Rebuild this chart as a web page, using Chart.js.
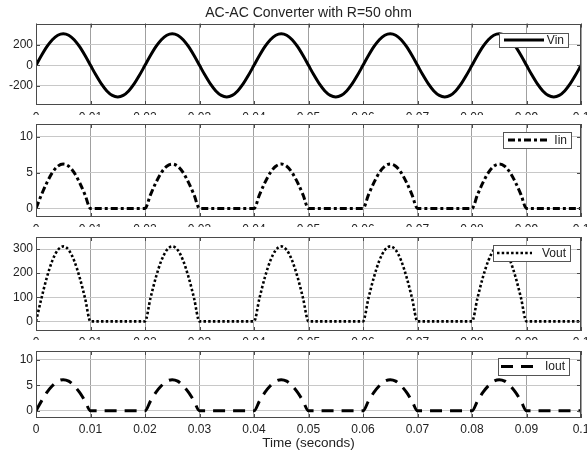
<!DOCTYPE html>
<html>
<head>
<meta charset="utf-8">
<script src="https://cdn.jsdelivr.net/npm/chart.js@4.4.1/dist/chart.umd.min.js"></script>
<style>
  html, body { margin: 0; padding: 0; background: #fff; overflow: hidden; width: 587px; height: 451px; }
  .panel { position: absolute; left: 0; width: 600px; overflow: hidden; }
  canvas { display: block; }
</style>
</head>
<body>
<div class="panel" style="top:0;height:115px"><canvas id="vinChart" width="600" height="125"></canvas></div>
<div class="panel" style="top:115px;height:112px"><canvas id="iinChart" width="600" height="122"></canvas></div>
<div class="panel" style="top:227px;height:113px"><canvas id="voutChart" width="600" height="124"></canvas></div>
<div class="panel" style="top:340px;height:111px"><canvas id="ioutChart" width="600" height="111"></canvas></div>
<script>
// sample times (s)
const time = [
  0, 0.001, 0.002, 0.003, 0.004, 0.005, 0.006, 0.007, 0.008, 0.009,
  0.010, 0.011, 0.012, 0.013, 0.014, 0.015, 0.016, 0.017, 0.018, 0.019,
  0.020, 0.021, 0.022, 0.023, 0.024, 0.025, 0.026, 0.027, 0.028, 0.029,
  0.030, 0.031, 0.032, 0.033, 0.034, 0.035, 0.036, 0.037, 0.038, 0.039,
  0.040, 0.041, 0.042, 0.043, 0.044, 0.045, 0.046, 0.047, 0.048, 0.049,
  0.050, 0.051, 0.052, 0.053, 0.054, 0.055, 0.056, 0.057, 0.058, 0.059,
  0.060, 0.061, 0.062, 0.063, 0.064, 0.065, 0.066, 0.067, 0.068, 0.069,
  0.070, 0.071, 0.072, 0.073, 0.074, 0.075, 0.076, 0.077, 0.078, 0.079,
  0.080, 0.081, 0.082, 0.083, 0.084, 0.085, 0.086, 0.087, 0.088, 0.089,
  0.090, 0.091, 0.092, 0.093, 0.094, 0.095, 0.096, 0.097, 0.098, 0.099,
  0.100
];

const vin = [
  0, 96, 183, 252, 296, 311, 296, 252, 183, 96,
  0, -96, -183, -252, -296, -311, -296, -252, -183, -96,
  0, 96, 183, 252, 296, 311, 296, 252, 183, 96,
  0, -96, -183, -252, -296, -311, -296, -252, -183, -96,
  0, 96, 183, 252, 296, 311, 296, 252, 183, 96,
  0, -96, -183, -252, -296, -311, -296, -252, -183, -96,
  0, 96, 183, 252, 296, 311, 296, 252, 183, 96,
  0, -96, -183, -252, -296, -311, -296, -252, -183, -96,
  0, 96, 183, 252, 296, 311, 296, 252, 183, 96,
  0, -96, -183, -252, -296, -311, -296, -252, -183, -96,
  0
];

const iin = [
  0, 1.9, 3.6, 5.0, 5.9, 6.2, 5.9, 5.0, 3.6, 1.9,
  0, 0, 0, 0, 0, 0, 0, 0, 0, 0,
  0, 1.9, 3.6, 5.0, 5.9, 6.2, 5.9, 5.0, 3.6, 1.9,
  0, 0, 0, 0, 0, 0, 0, 0, 0, 0,
  0, 1.9, 3.6, 5.0, 5.9, 6.2, 5.9, 5.0, 3.6, 1.9,
  0, 0, 0, 0, 0, 0, 0, 0, 0, 0,
  0, 1.9, 3.6, 5.0, 5.9, 6.2, 5.9, 5.0, 3.6, 1.9,
  0, 0, 0, 0, 0, 0, 0, 0, 0, 0,
  0, 1.9, 3.6, 5.0, 5.9, 6.2, 5.9, 5.0, 3.6, 1.9,
  0, 0, 0, 0, 0, 0, 0, 0, 0, 0,
  0
];

const vout = [
  0, 96, 183, 252, 296, 311, 296, 252, 183, 96,
  0, 0, 0, 0, 0, 0, 0, 0, 0, 0,
  0, 96, 183, 252, 296, 311, 296, 252, 183, 96,
  0, 0, 0, 0, 0, 0, 0, 0, 0, 0,
  0, 96, 183, 252, 296, 311, 296, 252, 183, 96,
  0, 0, 0, 0, 0, 0, 0, 0, 0, 0,
  0, 96, 183, 252, 296, 311, 296, 252, 183, 96,
  0, 0, 0, 0, 0, 0, 0, 0, 0, 0,
  0, 96, 183, 252, 296, 311, 296, 252, 183, 96,
  0, 0, 0, 0, 0, 0, 0, 0, 0, 0,
  0
];

const iout = [
  0, 1.9, 3.6, 4.9, 5.8, 6.1, 5.8, 4.9, 3.6, 1.9,
  0, 0, 0, 0, 0, 0, 0, 0, 0, 0,
  0, 1.9, 3.6, 4.9, 5.8, 6.1, 5.8, 4.9, 3.6, 1.9,
  0, 0, 0, 0, 0, 0, 0, 0, 0, 0,
  0, 1.9, 3.6, 4.9, 5.8, 6.1, 5.8, 4.9, 3.6, 1.9,
  0, 0, 0, 0, 0, 0, 0, 0, 0, 0,
  0, 1.9, 3.6, 4.9, 5.8, 6.1, 5.8, 4.9, 3.6, 1.9,
  0, 0, 0, 0, 0, 0, 0, 0, 0, 0,
  0, 1.9, 3.6, 4.9, 5.8, 6.1, 5.8, 4.9, 3.6, 1.9,
  0, 0, 0, 0, 0, 0, 0, 0, 0, 0,
  0
];

const xTicks = [0, 0.01, 0.02, 0.03, 0.04, 0.05, 0.06, 0.07, 0.08, 0.09, 0.1];
const xTickLabels = ['0', '0.01', '0.02', '0.03', '0.04', '0.05', '0.06', '0.07', '0.08', '0.09', '0.1'];
const vinTicks = [-200, 0, 200];
const iinTicks = [0, 5, 10];
const voutTicks = [0, 100, 200, 300];
const ioutTicks = [0, 5, 10];

const family = "'Liberation Sans', Arial, sans-serif";
const textColor = '#222';
const frameColor = '#4a4a4a';

// axes box, inner tick marks and the boxed legend
const frameAndLegend = {
  id: 'frameAndLegend',
  afterDatasetsDraw(chart, args, opts) {
    const ctx = chart.ctx;
    const a = chart.chartArea;
    const xs = chart.scales.x, ys = chart.scales.y;
    ctx.save();
    ctx.strokeStyle = frameColor;
    ctx.lineWidth = 1;
    ctx.beginPath();
    xs.ticks.forEach(t => {
      const px = Math.round(xs.getPixelForValue(t.value)) + 0.5;
      ctx.moveTo(px, a.bottom); ctx.lineTo(px, a.bottom - 4);
      ctx.moveTo(px, a.top); ctx.lineTo(px, a.top + 4);
    });
    ys.ticks.forEach(t => {
      const py = Math.round(ys.getPixelForValue(t.value)) + 0.5;
      ctx.moveTo(a.left, py); ctx.lineTo(a.left + 4, py);
      ctx.moveTo(a.right, py); ctx.lineTo(a.right - 4, py);
    });
    ctx.stroke();
    ctx.strokeRect(Math.round(a.left) + 0.5, Math.round(a.top) + 0.5,
      Math.round(a.right - a.left) - 1, Math.round(a.bottom - a.top) - 1);

    const ds = chart.data.datasets[0];
    const bx = Math.round(a.right - opts.right - opts.width);
    const by = Math.round(a.top + opts.top);
    const cy = by + opts.height / 2;
    ctx.fillStyle = '#fff';
    ctx.fillRect(bx, by, opts.width, opts.height);
    ctx.strokeStyle = '#555';
    ctx.strokeRect(bx + 0.5, by + 0.5, opts.width, opts.height);
    ctx.beginPath();
    ctx.setLineDash(ds.borderDash || []);
    ctx.lineWidth = ds.borderWidth;
    ctx.strokeStyle = ds.borderColor;
    ctx.moveTo(bx + opts.lineStart, cy);
    ctx.lineTo(bx + opts.lineEnd, cy);
    ctx.stroke();
    ctx.setLineDash([]);
    ctx.font = '12px ' + family;
    ctx.fillStyle = textColor;
    ctx.textAlign = 'right';
    ctx.textBaseline = 'middle';
    ctx.fillText(ds.label, bx + opts.width - 4, cy + 0.5);
    ctx.restore();
  }
};

function makeChart(id, label, values, style, yMin, yMax, yTicks, lay) {
  const points = time.map((t, i) => ({ x: t, y: values[i] }));
  return new Chart(document.getElementById(id), {
    type: 'line',
    data: {
      datasets: [{
        label: label,
        data: points,
        borderColor: '#000',
        borderWidth: style.width,
        borderDash: style.dash,
        borderCapStyle: 'butt',
        pointRadius: 0,
        cubicInterpolationMode: 'monotone',
        fill: false
      }]
    },
    options: {
      responsive: false,
      animation: false,
      events: [],
      layout: { padding: { top: lay.top, right: 19, left: 0, bottom: 0 } },
      scales: {
        x: {
          type: 'linear',
          min: 0,
          max: 0.1,
          afterBuildTicks: s => { s.ticks = xTicks.map(v => ({ value: v })); },
          afterFit: s => { s.height = lay.xHeight; },
          grid: { color: '#a0a0a0', drawTicks: false },
          border: { display: false },
          ticks: {
            padding: lay.xPad,
            maxRotation: 0,
            autoSkip: false,
            color: textColor,
            font: { size: 12, family: family },
            callback: (v, i) => xTickLabels[i]
          },
          title: {
            display: !!lay.xTitle,
            text: lay.xTitle || '',
            color: textColor,
            font: { size: 13.5, family: family },
            padding: { top: 0, bottom: 0 }
          }
        },
        y: {
          min: yMin,
          max: yMax,
          afterBuildTicks: s => { s.ticks = yTicks.map(v => ({ value: v })); },
          afterFit: s => { s.width = 36; },
          grid: { color: '#c8c8c8', drawTicks: false },
          border: { display: false },
          ticks: {
            padding: 3,
            color: textColor,
            font: { size: 12, family: family, lineHeight: 1 },
            callback: v => String(v)
          }
        }
      },
      plugins: {
        legend: { display: false },
        tooltip: { enabled: false },
        title: {
          display: !!lay.title,
          text: lay.title || '',
          fullSize: false,
          color: textColor,
          font: { size: 14, family: family, weight: 'normal', lineHeight: 1.2 },
          padding: { top: 5, bottom: 1.8 }
        },
        frameAndLegend: lay.legend
      }
    },
    plugins: [frameAndLegend]
  });
}

makeChart('vinChart', 'Vin', vin, { width: 3, dash: [] }, -390, 410, vinTicks,
  { top: 0, xHeight: 20, xPad: 5, title: 'AC-AC Converter with R=50 ohm',
    legend: { right: 13, width: 69, top: 9.5, height: 14, lineStart: 5, lineEnd: 45 } });

makeChart('iinChart', 'Iin', iin, { width: 3, dash: [7, 3, 3, 3] }, -1.2, 11.8, iinTicks,
  { top: 9, xHeight: 20, xPad: 5,
    legend: { right: 10, width: 68, top: 8, height: 16, lineStart: 5, lineEnd: 45 } });

makeChart('voutChart', 'Vout', vout, { width: 2.6, dash: [2.5, 2.2] }, -40, 350, voutTicks,
  { top: 10, xHeight: 20, xPad: 4,
    legend: { right: 11, width: 77, top: 8, height: 16, lineStart: 4, lineEnd: 39 } });

makeChart('ioutChart', 'Iout', iout, { width: 3, dash: [12, 8] }, -1.4, 11.7, ioutTicks,
  { top: 11, xHeight: 33, xPad: 4, xTitle: 'Time (seconds)',
    legend: { right: 12, width: 71, top: 7, height: 17, lineStart: 3, lineEnd: 35 } });
</script>
</body>
</html>
